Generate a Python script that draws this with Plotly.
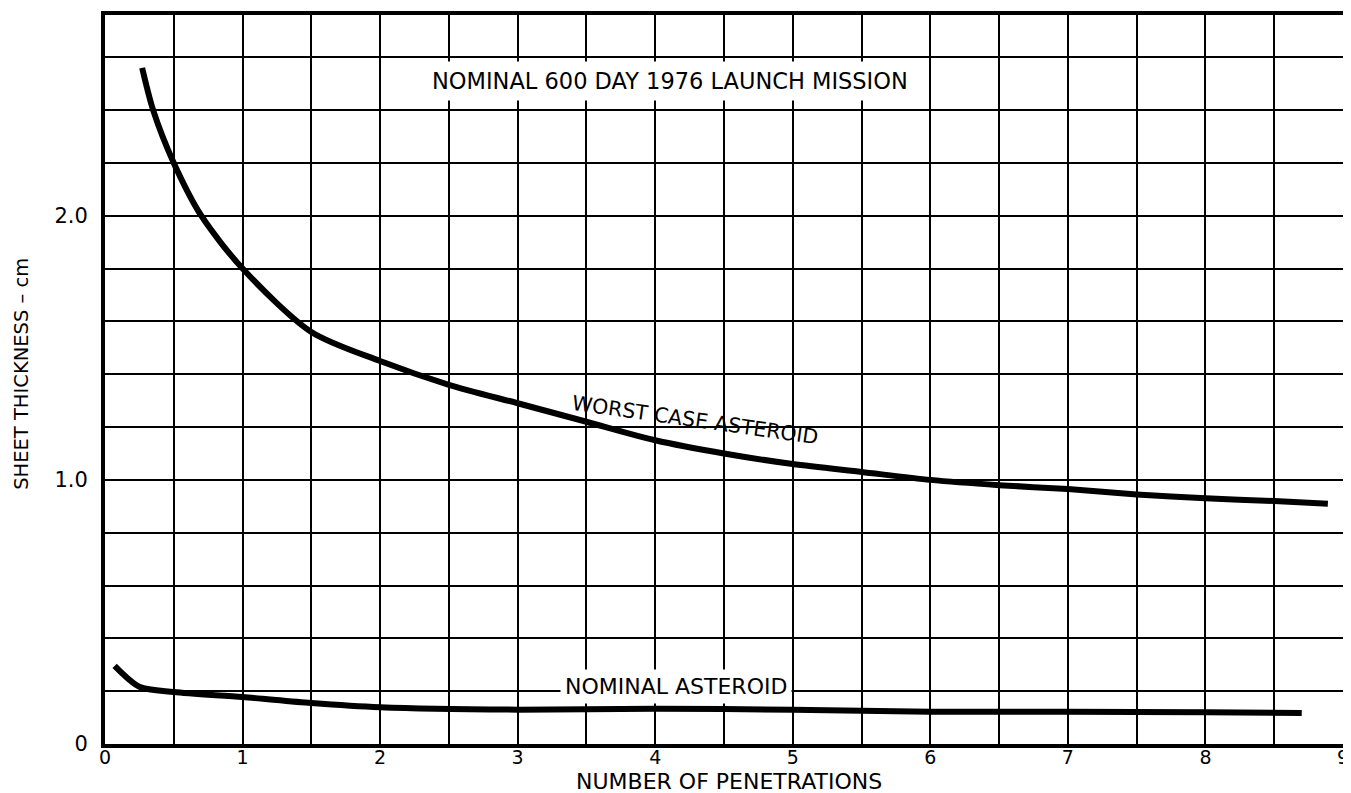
import plotly.graph_objects as go

# Data
worst_x = [0.27, 0.35, 0.5, 0.7, 1.0, 1.5, 2.0, 2.5, 3.0, 3.5, 4.0, 4.5, 5.0, 5.5, 6.0, 6.5, 7.0, 7.5, 8.0, 8.5, 8.89]
worst_y = [2.56, 2.40, 2.20, 2.00, 1.80, 1.56, 1.45, 1.36, 1.29, 1.22, 1.15, 1.10, 1.06, 1.03, 1.00, 0.98, 0.965, 0.945, 0.93, 0.92, 0.91]

nominal_x = [0.07, 0.25, 0.5, 1.0, 1.5, 2.0, 3.0, 4.0, 5.0, 6.0, 7.0, 8.0, 8.7]
nominal_y = [0.296, 0.217, 0.197, 0.178, 0.155, 0.139, 0.13, 0.133, 0.13, 0.122, 0.122, 0.12, 0.117]

x_tick_vals = [i * 0.5 for i in range(19)]
x_tick_text = [str(int(v)) if v == int(v) else "" for v in x_tick_vals]
y_tick_vals = [round(i * 0.2, 1) for i in range(14)]
y_tick_labels = {0.0: "0", 1.0: "1.0", 2.0: "2.0"}
y_tick_text = [y_tick_labels.get(v, "") for v in y_tick_vals]

FONT = "DejaVu Sans"

fig = go.Figure()
fig.add_trace(go.Scatter(x=worst_x, y=worst_y, mode="lines",
                         line=dict(color="black", width=6, shape="spline", smoothing=0.8),
                         showlegend=False, hoverinfo="skip"))
fig.add_trace(go.Scatter(x=nominal_x, y=nominal_y, mode="lines",
                         line=dict(color="black", width=6, shape="spline", smoothing=0.8),
                         showlegend=False, hoverinfo="skip"))

fig.add_annotation(x=4.11, y=2.51, text="NOMINAL 600 DAY 1976 LAUNCH MISSION", showarrow=False,
                   font=dict(family=FONT, size=22.5, color="black"), bgcolor="white", borderpad=6)
fig.add_annotation(x=4.29, y=1.225, text="WORST CASE ASTEROID", showarrow=False, textangle=8,
                   font=dict(family=FONT, size=20.5, color="black"))
fig.add_annotation(x=4.15, y=0.216, text="NOMINAL ASTEROID", showarrow=False,
                   font=dict(family=FONT, size=22, color="black"), bgcolor="white", borderpad=4)

# axis titles
fig.add_annotation(xref="paper", yref="paper", x=0.504, y=-0.052, yanchor="middle",
                   text="NUMBER OF PENETRATIONS", showarrow=False,
                   font=dict(family=FONT, size=22, color="black"))
fig.add_annotation(xref="paper", yref="paper", x=-0.0680, y=0.5075, xanchor="center", yanchor="middle",
                   text="SHEET THICKNESS – cm", showarrow=False, textangle=-90,
                   font=dict(family=FONT, size=19.5, color="black"))

fig.update_xaxes(range=[0, 9], tickmode="array", tickvals=x_tick_vals, ticktext=x_tick_text,
                 showgrid=True, gridcolor="black", gridwidth=1.5, zeroline=False,
                 showline=True, linecolor="black", linewidth=4, mirror=True, ticks="",
                 ticklabelstandoff=-7, automargin=False,
                 tickfont=dict(family=FONT, size=19, color="black"))
fig.update_yaxes(range=[0, 2.76], tickmode="array", tickvals=y_tick_vals, ticktext=y_tick_text,
                 showgrid=True, gridcolor="black", gridwidth=1.5, zeroline=False,
                 showline=True, linecolor="black", linewidth=4, mirror=True, ticks="",
                 ticklabelstandoff=9, automargin=False,
                 tickfont=dict(family=FONT, size=21, color="black"))

# page body has an 8px margin; size/margins compensate so the plot lands where the reference has it
fig.update_layout(width=1343, height=785, plot_bgcolor="white", paper_bgcolor="white",
                  margin=dict(l=97, r=8, t=7, b=49))

fig.write_html("out.html")
